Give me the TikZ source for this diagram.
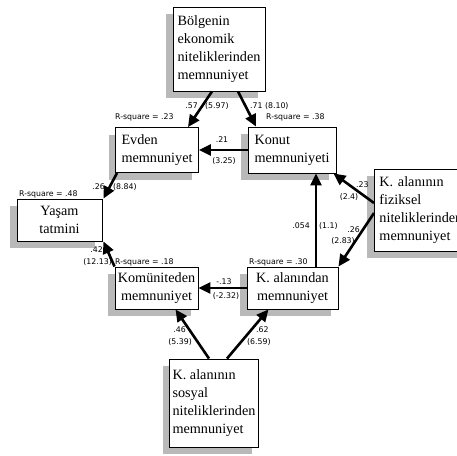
\documentclass[tikz,border=0pt]{standalone}
\usepackage{fontspec}
\setmainfont{Liberation Serif}
\newfontfamily\lblfont{DejaVu Sans}
\usetikzlibrary{arrows.meta,shadows}
\begin{document}
\begin{tikzpicture}[x=1pt,y=-1pt,
  box/.style={draw,line width=0.9pt,fill=white,inner sep=0pt,
    font=\fontsize{14.2}{18}\selectfont,
    drop shadow={shadow xshift=-7pt,shadow yshift=-7pt,fill=gray!55,opacity=1}},
  lbl/.style={inner sep=0pt,font=\lblfont\fontsize{7.8}{12}\selectfont},
  arr/.style={line width=2.6pt,-{Triangle[length=12pt,width=11pt]}}
]
\useasboundingbox (0,0) rectangle (457,455);
% boxes
\node[box,minimum width=92pt,minimum height=84pt,align=left] (B) at (219,49) {Bölgenin\\ekonomik\\niteliklerinden\\memnuniyet};
\node[box,minimum width=83pt,minimum height=45pt,align=left] (E) at (157,150) {Evden\\memnuniyet};
\node[box,minimum width=88pt,minimum height=46pt,align=left] (K) at (292,150) {Konut\\memnuniyeti};
\node[box,minimum width=85pt,minimum height=42pt,align=center] (Y) at (59.5,220) {Yaşam\\tatmini};
\node[box,anchor=north west,minimum height=82pt,text width=100pt,inner xsep=5pt,align=left] (F) at (374,169) {K. alanının\\fiziksel\\niteliklerinden\\memnuniyet};
\node[box,minimum width=83pt,minimum height=42pt,align=center] (C) at (156.5,288) {Komüniteden\\memnuniyet};
\node[box,minimum width=91pt,minimum height=42pt,align=center] (A) at (292.5,288) {K. alanından\\memnuniyet};
\node[box,minimum width=89pt,minimum height=88pt,align=left] (S) at (214,403) {K. alanının\\sosyal\\niteliklerinden\\memnuniyet};
% connectors
\draw[arr] ([xshift=-7pt]B.south) -- ([xshift=31pt]E.north);
\draw[arr] ([xshift=19pt]B.south) -- ([xshift=-36pt]K.north);
\draw[arr] (K.west) -- (E.east);
\draw[arr] ([xshift=2pt]E.south west) -- ([xshift=1pt]Y.north east);
\draw[arr] (C.north west) -- ([xshift=1pt]Y.south east);
\draw[arr] (A.west) -- (C.east);
\draw[arr] ([xshift=23.5pt]A.north) -- ([xshift=24pt]K.south);
\draw[arr] ([yshift=-34pt]F.north west) -- ([xshift=-3pt]K.south east);
\draw[arr] ([yshift=-44pt]F.north west) -- (A.north east);
\draw[arr] ([xshift=-5pt]S.north) -- ([xshift=19pt]C.south);
\draw[arr] ([xshift=13pt]S.north) -- ([xshift=-24pt]A.south);
% labels
\node[lbl,anchor=east] (l1) at (198,106) {.57};
\node[lbl,anchor=west] (l2) at (205,106) {(5.97)};
\node[lbl,anchor=west] (l3) at (250,106) {.71 (8.10)};
\node[lbl,anchor=west] (r1) at (115,117) {R-square = .23};
\node[lbl,anchor=west] (r2) at (266,117) {R-square = .38};
\node[lbl] (l4) at (222,140) {.21};
\node[lbl] (l5) at (224,161) {(3.25)};
\node[lbl,anchor=east] (l6) at (105,187) {.26};
\node[lbl,anchor=west] (l7) at (113,187) {(8.84)};
\node[lbl,anchor=west] (r3) at (19,194) {R-square = .48};
\node[lbl,anchor=east] (l8) at (103,250) {.42};
\node[lbl,anchor=east] (l9) at (112,262) {(12.13)};
\node[lbl,anchor=west] (r4) at (115,262) {R-square = .18};
\node[lbl,anchor=west] (r5) at (249,262) {R-square = .30};
\node[lbl] (l10) at (224,282) {-.13};
\node[lbl] (l11) at (226,296) {(-2.32)};
\node[lbl,anchor=east] (l12) at (310,226) {.054};
\node[lbl,anchor=west] (l13) at (319,226) {(1.1)};
\node[lbl,anchor=west] (l14) at (356,185) {.23};
\node[lbl] (l15) at (349,197) {(2.4)};
\node[lbl,anchor=east] (l16) at (360,230) {.26};
\node[lbl] (l17) at (343,241) {(2.83)};
\node[lbl,anchor=east] (l18) at (186,330) {.46};
\node[lbl,anchor=east] (l19) at (192,342) {(5.39)};
\node[lbl,anchor=west] (l20) at (256,330) {.62};
\node[lbl,anchor=west] (l21) at (247,342) {(6.59)};
\end{tikzpicture}
\end{document}
